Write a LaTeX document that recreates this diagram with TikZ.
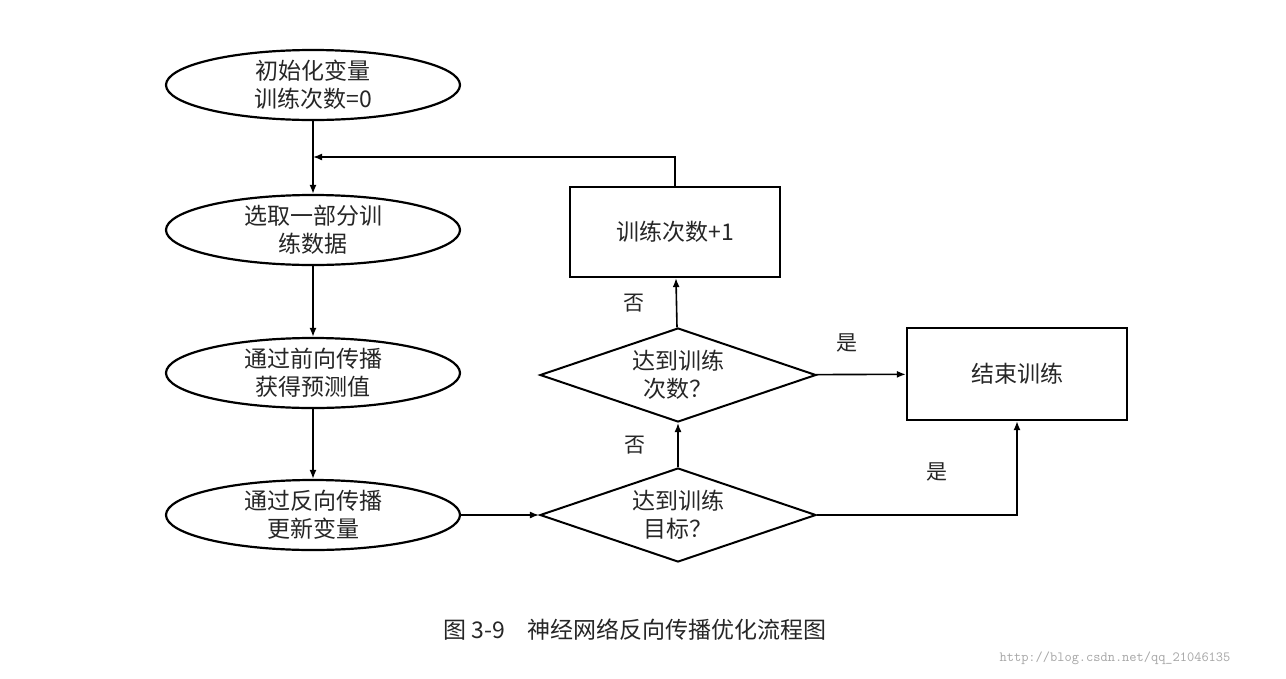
\documentclass[tikz,border=0pt]{standalone}
\usepackage{fontspec}
\setmainfont{Noto Sans CJK SC}
\usetikzlibrary{shapes.geometric,arrows.meta}
\begin{document}
\begin{tikzpicture}[x=1pt,y=-1pt,
  every node/.style={font=\fontsize{23}{28}\selectfont, align=center, text=black!85},
  ell/.style={draw, ellipse, line width=2.2pt, minimum width=294pt, minimum height=70pt, inner sep=0pt},
  box/.style={draw, rectangle, line width=2.2pt, inner sep=0pt},
  dia/.style={draw, diamond, aspect=2.9, line width=2pt, minimum width=276pt, minimum height=94pt, inner sep=0pt},
  arr/.style={draw, line width=1.6pt, -{Latex[length=9pt,width=7pt]}},
  lab/.style={font=\fontsize{21}{24}\selectfont}]
\useasboundingbox (0,0) rectangle (1286,678);
\fill[white] (0,0) rectangle (1286,678);
\node[ell] (e1) at (313,85) {初始化变量\\训练次数=0};
\node[ell] (e2) at (313,230) {选取一部分训\\练数据};
\node[ell] (e3) at (313,373) {通过前向传播\\获得预测值};
\node[ell] (e4) at (313,515) {通过反向传播\\更新变量};
\node[box, minimum width=210pt, minimum height=90pt] (b1) at (675,232) {训练次数+1};
\node[dia] (d1) at (678,375) {达到训练\\次数？};
\node[dia] (d2) at (678,515) {达到训练\\目标？};
\node[box, minimum width=220pt, minimum height=92pt] (b2) at (1017,374) {结束训练};
\coordinate (lp) at (313,157);
\draw[arr] (e1) -- (e2);
\draw[arr] (e2) -- (e3);
\draw[arr] (e3) -- (e4);
\draw[arr] (e4) -- (d2);
\draw[arr] (d2) -- (d1) node[lab, pos=0.5, left=28pt] {否};
\draw[arr] (d1) -- (b1) node[lab, pos=0.5, left=28pt] {否};
\draw[arr] (b1.north) -- (b1.north |- lp) -- (lp);
\draw[arr] (d1) -- (b2) node[lab, pos=0.35, above=18pt] {是};
\draw[arr] (d2.east) -| (b2.south) node[lab, pos=0.3, above=30pt] {是};
\node[font=\fontsize{23}{28}\selectfont] (cap) at (635,630) {图 3-9\quad 神经网络反向传播优化流程图};
\node[font=\ttfamily\fontsize{14}{16}\selectfont, text=black!35] (wm) at (1115,658) {http://blog.csdn.net/qq\_21046135};
\end{tikzpicture}
\end{document}
